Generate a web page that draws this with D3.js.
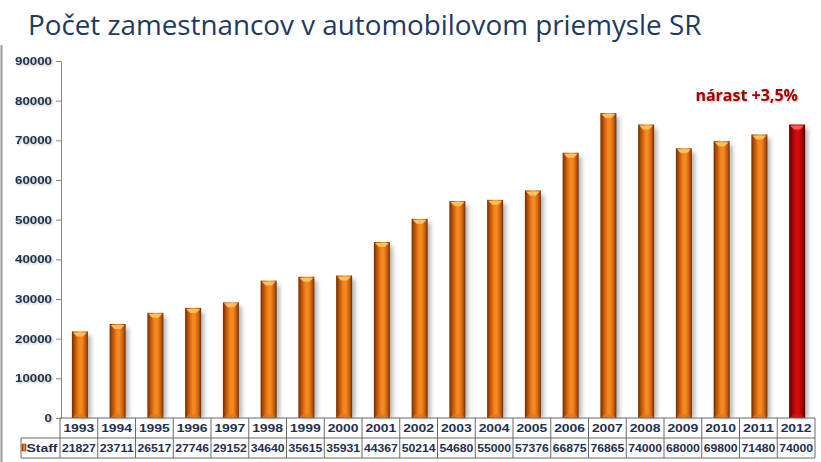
<!DOCTYPE html>
<html lang="sk">
<head>
<meta charset="utf-8">
<title>Počet zamestnancov v automobilovom priemysle SR</title>
<script src="https://d3js.org/d3.v7.min.js"></script>
<style>
  body { margin: 0; background: #fff; }
  svg { display: block; }
  .tick text { font-family: "Liberation Sans", Arial, sans-serif; font-weight: bold; font-size: 10.5px; fill: #1f3050; }
</style>
</head>
<body>
<div id="chart"></div>
<script>
// data
const years = ["1993","1994","1995","1996","1997","1998","1999","2000","2001","2002",
               "2003","2004","2005","2006","2007","2008","2009","2010","2011","2012"];
const staff = [21827,23711,26517,27746,29152,34640,35615,35931,44367,50214,
               54680,55000,57376,66875,76865,74000,68000,69800,71480,74000];
const yTicks = [0,10000,20000,30000,40000,50000,60000,70000,80000,90000];
const seriesName = "Staff";
const title = "Počet zamestnancov v automobilovom priemysle SR";
const note = "nárast +3,5%";

const W = 821, H = 462;
const plotLeft = 60, plotRight = 815, plotTop = 61, plotBottom = 418;

const svg = d3.select("#chart").append("svg")
    .attr("width", W).attr("height", H);

const defs = svg.append("defs");

function cylGrad(id, stops) {
  const g = defs.append("linearGradient").attr("id", id)
      .attr("x1", "0%").attr("x2", "100%").attr("y1", "0%").attr("y2", "0%");
  stops.forEach(s => g.append("stop").attr("offset", s[0]).attr("stop-color", s[1]));
}
cylGrad("orange", [["0%","#6e2d00"],["18%","#b84f06"],["45%","#f4861c"],["62%","#f58a22"],["85%","#c65a08"],["100%","#6e2d00"]]);
cylGrad("red", [["0%","#500000"],["18%","#980000"],["45%","#d40c0c"],["62%","#d00a0a"],["85%","#9a0000"],["100%","#500000"]]);

defs.append("filter").attr("id", "blur")
    .attr("x", "-50%").attr("y", "-10%").attr("width", "200%").attr("height", "120%")
  .append("feGaussianBlur").attr("stdDeviation", 2);

const txtShadow = defs.append("filter").attr("id", "tshadow");
txtShadow.append("feDropShadow").attr("dx", 1).attr("dy", 1).attr("stdDeviation", 0.8)
    .attr("flood-color", "#000").attr("flood-opacity", 0.3);

// slide frame line on the left
svg.append("line").attr("x1", 1.5).attr("x2", 1.5).attr("y1", 45).attr("y2", H)
    .attr("stroke", "#9a9a9a").attr("stroke-width", 2);

svg.append("text")
    .attr("x", 28).attr("y", 35)
    .attr("font-family", "'Open Sans', sans-serif")
    .attr("font-size", 27.8)
    .attr("fill", "#1f3a5c")
    .text(title);

const x = d3.scaleBand().domain(years).range([plotLeft, plotRight]).padding(0);
const y = d3.scaleLinear().domain([0, 90000]).range([plotBottom, plotTop]);

// y axis
const yAxis = svg.append("g")
    .attr("transform", `translate(${plotLeft + 1},0)`)
    .call(d3.axisLeft(y).tickValues(yTicks).tickSize(5).tickPadding(4).tickFormat(d3.format("d")));
yAxis.select(".domain").attr("stroke", "#8a8a8a");
yAxis.selectAll(".tick line").attr("stroke", "#8a8a8a");
yAxis.selectAll(".tick text")
    .attr("filter", "url(#tshadow)")
    .attr("textLength", d => String(d).length * 7.4)
    .attr("lengthAdjust", "spacingAndGlyphs");

// bars
const bw = 16;
const last = years.length - 1;
const cxOf = d => x(d) + x.bandwidth() / 2 + 1;
const bars = svg.append("g").selectAll("g").data(years).join("g");

bars.append("rect")
    .attr("x", d => cxOf(d) - bw / 2 + 5)
    .attr("y", (d, i) => y(staff[i]) + 4)
    .attr("width", bw - 2)
    .attr("height", (d, i) => plotBottom - y(staff[i]) - 4)
    .attr("fill", "#777").attr("opacity", 0.55)
    .attr("filter", "url(#blur)");

bars.append("rect")
    .attr("x", d => cxOf(d) - bw / 2)
    .attr("y", (d, i) => y(staff[i]))
    .attr("width", bw)
    .attr("height", (d, i) => plotBottom - y(staff[i]))
    .attr("fill", (d, i) => i === last ? "url(#red)" : "url(#orange)");

// top cap highlight
bars.append("path")
    .attr("d", (d, i) => {
      const cx = cxOf(d), t = y(staff[i]);
      return `M${cx - bw / 2 + 1},${t + 1} L${cx + bw / 2 - 1},${t + 1} L${cx + 3},${t + 5} L${cx - 3},${t + 5} Z`;
    })
    .attr("fill", (d, i) => i === last ? "#ff5a5a" : "#ffc060");

// bottom cap
bars.append("path")
    .attr("d", d => {
      const cx = cxOf(d);
      return `M${cx - 3},${plotBottom - 4} L${cx + 3},${plotBottom - 4} L${cx + bw / 2 - 1},${plotBottom - 1} L${cx - bw / 2 + 1},${plotBottom - 1} Z`;
    })
    .attr("fill", (d, i) => i === last ? "#b02020" : "#d87a28")
    .attr("opacity", 0.8);

// annotation
svg.append("text")
    .attr("x", 798).attr("y", 101)
    .attr("text-anchor", "end")
    .attr("font-family", "'Open Sans', sans-serif")
    .attr("font-weight", "bold")
    .attr("font-size", 16)
    .attr("fill", "#a50000")
    .attr("filter", "url(#tshadow)")
    .text(note);

// data table
const rowH = 20;
const table = svg.append("g")
    .attr("font-family", "'Liberation Sans', Arial, sans-serif")
    .attr("font-weight", "bold")
    .attr("fill", "#1f3050");
const lineCol = "#6a6a6a";

table.selectAll("text.yr").data(years).join("text")
    .attr("class", "yr")
    .attr("x", d => x(d) + x.bandwidth() / 2)
    .attr("y", plotBottom + 14)
    .attr("text-anchor", "middle")
    .attr("font-size", 11.5)
    .attr("textLength", 31)
    .attr("lengthAdjust", "spacingAndGlyphs")
    .text(d => d);

table.selectAll("text.val").data(staff).join("text")
    .attr("class", "val")
    .attr("x", (d, i) => x(years[i]) + x.bandwidth() / 2)
    .attr("y", plotBottom + rowH + 14)
    .attr("text-anchor", "middle")
    .attr("font-size", 11)
    .attr("textLength", 34)
    .attr("lengthAdjust", "spacingAndGlyphs")
    .text(d => d);

// grid of the table
table.append("line").attr("x1", plotLeft).attr("x2", plotRight).attr("y1", plotBottom).attr("y2", plotBottom)
    .attr("stroke", lineCol);
table.append("line").attr("x1", 21).attr("x2", plotRight).attr("y1", plotBottom + rowH).attr("y2", plotBottom + rowH)
    .attr("stroke", lineCol);
table.append("line").attr("x1", 21).attr("x2", plotRight).attr("y1", plotBottom + 2 * rowH).attr("y2", plotBottom + 2 * rowH)
    .attr("stroke", lineCol);
table.append("line").attr("x1", 21).attr("x2", 21).attr("y1", plotBottom + rowH).attr("y2", plotBottom + 2 * rowH)
    .attr("stroke", lineCol);
table.selectAll("line.col").data(years.concat(["end"])).join("line")
    .attr("class", "col")
    .attr("x1", d => d === "end" ? plotRight : x(d))
    .attr("x2", d => d === "end" ? plotRight : x(d))
    .attr("y1", plotBottom).attr("y2", plotBottom + 2 * rowH)
    .attr("stroke", lineCol);

// legend key + series name
table.append("rect").attr("x", 22).attr("y", plotBottom + rowH + 6).attr("width", 4).attr("height", 7)
    .attr("fill", "url(#orange)").attr("stroke", "#6e2d00").attr("stroke-width", 0.5);
table.append("text").attr("x", 26.5).attr("y", plotBottom + rowH + 14)
    .attr("font-size", 11.5)
    .attr("textLength", 31)
    .attr("lengthAdjust", "spacingAndGlyphs")
    .text(seriesName);
</script>
</body>
</html>
